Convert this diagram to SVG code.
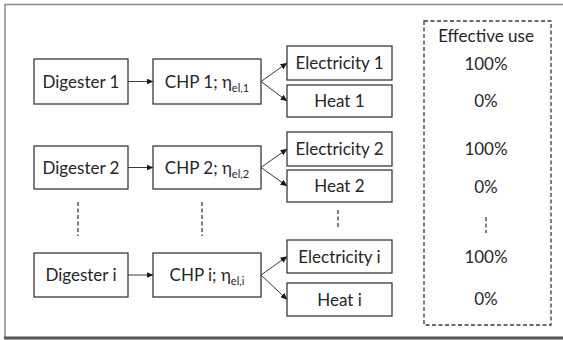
<svg xmlns="http://www.w3.org/2000/svg" width="563" height="340" viewBox="0 0 563 340">
<style>
.box{fill:#fff;stroke:#3a3a3a;stroke-width:1.3}
.t{font-family:Lato,"Open Sans","Liberation Sans",sans-serif;font-size:17px;fill:#262626;text-anchor:middle}
.sub{font-size:11px}
.c{fill:none;stroke:#3a3a3a;stroke-width:1}
.d{fill:none;stroke:#3a3a3a;stroke-width:1.3;stroke-dasharray:4 2.5}
</style>
<defs>
<marker id="ah" markerWidth="7" markerHeight="6" refX="6.5" refY="3" orient="auto" markerUnits="userSpaceOnUse">
<path d="M0,0 L7,3 L0,6 Z" fill="#1a1a1a"/>
</marker>
</defs>
<rect width="563" height="340" fill="#fff"/>
<g id="frame">
<rect x="5" y="4.5" width="575" height="333.5" fill="none" stroke="#8a8a8a" stroke-width="1.5"/>
<line x1="4" y1="338" x2="563" y2="338" stroke="#555" stroke-width="3"/>
</g>
<g id="connectors">
<line class="c" x1="128" y1="81.5" x2="153" y2="81.5" marker-end="url(#ah)"/>
<line class="c" x1="128" y1="167.5" x2="153" y2="167.5" marker-end="url(#ah)"/>
<line class="c" x1="128" y1="275" x2="153" y2="275" stroke="#888" marker-end="url(#ah)"/>
<line class="c" x1="261" y1="81.5" x2="287" y2="63" marker-end="url(#ah)"/>
<line class="c" x1="261" y1="81.5" x2="287" y2="101" marker-end="url(#ah)"/>
<line class="c" x1="261" y1="167.5" x2="287" y2="149" marker-end="url(#ah)"/>
<line class="c" x1="261" y1="167.5" x2="287" y2="186" marker-end="url(#ah)"/>
<line class="c" x1="261" y1="275" x2="287" y2="256.5" marker-end="url(#ah)"/>
<line class="c" x1="261" y1="275" x2="287" y2="299.5" marker-end="url(#ah)"/>
<line class="d" x1="78" y1="202" x2="78" y2="236"/>
<line class="d" x1="202" y1="202" x2="202" y2="236"/>
<line class="d" x1="338" y1="210" x2="338" y2="227"/>
<line class="d" x1="486" y1="217" x2="486" y2="233"/>
</g>
<g id="digester1"><rect class="box" x="34" y="59" width="94" height="45"/><text class="t" x="81" y="87.5">Digester 1</text></g>
<g id="digester2"><rect class="box" x="34" y="146" width="94" height="43"/><text class="t" x="81" y="173.5">Digester 2</text></g>
<g id="digesteri"><rect class="box" x="34" y="253" width="94" height="44"/><text class="t" x="81" y="281">Digester i</text></g>
<g id="chp1"><rect class="box" x="153" y="59" width="108" height="45"/><text class="t" x="207" y="87.5">CHP 1; η<tspan class="sub" dy="4">el,1</tspan></text></g>
<g id="chp2"><rect class="box" x="153" y="146" width="108" height="43"/><text class="t" x="207" y="173.5">CHP 2; η<tspan class="sub" dy="4">el,2</tspan></text></g>
<g id="chpi"><rect class="box" x="153" y="253" width="108" height="44"/><text class="t" x="207" y="281">CHP i; η<tspan class="sub" dy="4">el,i</tspan></text></g>
<g id="electricity1"><rect class="box" x="287" y="46" width="105" height="34"/><text class="t" x="339.5" y="69">Electricity 1</text></g>
<g id="heat1"><rect class="box" x="287" y="85" width="105" height="32"/><text class="t" x="339.5" y="107">Heat 1</text></g>
<g id="electricity2"><rect class="box" x="287" y="132" width="105" height="34"/><text class="t" x="339.5" y="155">Electricity 2</text></g>
<g id="heat2"><rect class="box" x="287" y="170" width="105" height="32"/><text class="t" x="339.5" y="192">Heat 2</text></g>
<g id="electricityi"><rect class="box" x="287" y="240" width="105" height="33"/><text class="t" x="339.5" y="262.5">Electricity i</text></g>
<g id="heati"><rect class="box" x="287" y="283" width="105" height="33"/><text class="t" x="339.5" y="305.5">Heat i</text></g>
<g id="effective-use">
<rect x="424" y="21" width="127" height="304" fill="none" stroke="#3a3a3a" stroke-width="1.3" stroke-dasharray="4 2.5"/>
<text class="t" x="486" y="42">Effective use</text>
<text class="t" x="486" y="70">100%</text>
<text class="t" x="486" y="107">0%</text>
<text class="t" x="486" y="155">100%</text>
<text class="t" x="486" y="193">0%</text>
<text class="t" x="486" y="263">100%</text>
<text class="t" x="486" y="305">0%</text>
</g>
</svg>
